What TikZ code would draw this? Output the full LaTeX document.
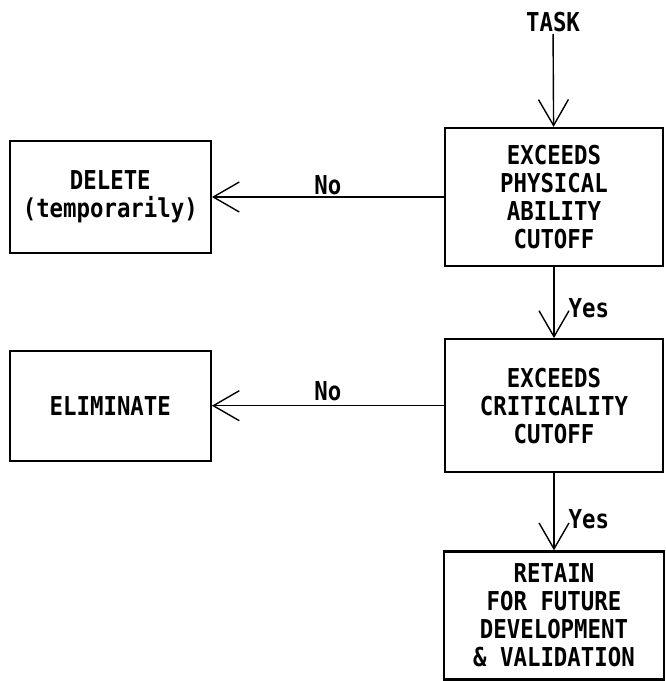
\documentclass[tikz,border=0pt]{standalone}
\usepackage{fontspec}
\usepackage{tikz}
\usetikzlibrary{arrows.meta,positioning}
\newfontfamily\typefont[FakeStretch=0.86]{DejaVu Sans Mono Bold}

\begin{document}
\begin{tikzpicture}[
  x=1pt,y=1pt,
  font=\typefont\fontsize{26}{28}\selectfont,
  >={Straight Barb[length=26pt,width=30pt]},
  edge/.style={->,line width=1.4pt,draw=black},
  decision/.style={draw=black,line width=2.2pt,align=center,
                   inner sep=0pt,minimum width=218pt},
  outcome/.style={draw=black,line width=2.2pt,align=center,
                  inner sep=0pt,minimum width=201pt},
  answer/.style={inner sep=0pt}
]
\useasboundingbox (0,0) rectangle (665,-681);

\node[inner sep=2pt] (task) at (553,-22) {TASK};
\node[decision,minimum height=138pt] (physical) at (554,-197)
  {EXCEEDS\\PHYSICAL\\ABILITY\\CUTOFF};
\node[decision,minimum height=133pt,below=71pt of physical] (critical)
  {EXCEEDS\\CRITICALITY\\CUTOFF};
\node[decision,minimum height=128pt,minimum width=220pt,below=77pt of critical]
  (retain) {RETAIN\\FOR FUTURE\\DEVELOPMENT\\\& VALIDATION};
\node[outcome,minimum height=112pt,left=232pt of physical] (delete)
  {DELETE\\(temporarily)};
\node[outcome,minimum height=110pt,left=232pt of critical] (eliminate)
  {ELIMINATE};

\draw[edge] (task) -- (physical);
\draw[edge] (physical) -- node[answer,anchor=south,yshift=1pt] {No} (delete);
\draw[edge] (physical) -- node[answer,anchor=west,pos=0.58,xshift=14pt] {Yes} (critical);
\draw[edge] (critical) -- node[answer,anchor=south,yshift=4pt] {No} (eliminate);
\draw[edge] (critical) -- node[answer,anchor=west,pos=0.59,xshift=14pt] {Yes} (retain);
\end{tikzpicture}
\end{document}
